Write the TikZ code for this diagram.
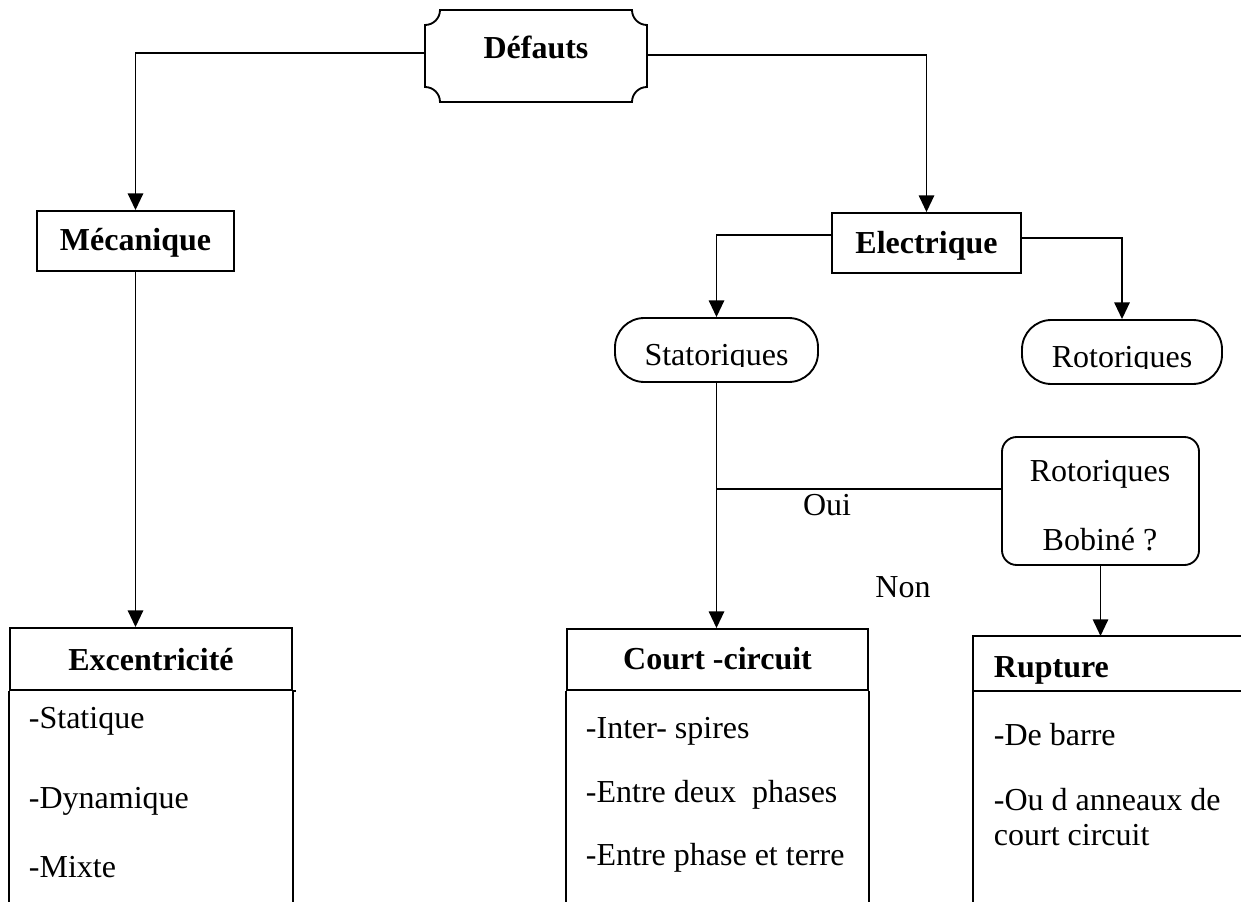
\documentclass[tikz,border=0pt]{standalone}
\usepackage{fontspec}
\setmainfont{Liberation Serif}
\usetikzlibrary{arrows.meta}
\begin{document}
\begin{tikzpicture}[x=0.75pt,y=-0.75pt,line width=1.4pt,
  every node/.style={inner sep=0pt},
  f/.style={font=\fontsize{24}{29}\selectfont},
  fb/.style={font=\fontsize{24}{29}\selectfont\bfseries},
  arr/.style={-{Triangle[length=12.5pt,width=11.5pt]}},
  boxn/.style={draw, rectangle, fb, text depth=0pt},
  pill/.style={draw, rectangle, rounded corners=22pt},
  item/.style={f, anchor=base west},
  itemb/.style={fb, anchor=base west},
  lbl/.style={f, anchor=base}]

\useasboundingbox (0,0) rectangle (1241,902);
\coordinate (bot) at (0,902);

% ---------- Défauts ----------
\node[fb, minimum width=166.5pt, minimum height=69pt, text height=4.5pt, text depth=0pt] (defauts) at (536,56) {Défauts};
\draw (440,10) -- (632,10) .. controls (632,18.3) and (638.7,25) .. (647,25)
  -- (647,87) .. controls (638.7,87) and (632,93.7) .. (632,102)
  -- (440,102) .. controls (440,93.7) and (433.3,87) .. (425,87)
  -- (425,25) .. controls (433.3,25) and (440,18.3) .. (440,10) -- cycle;

% ---------- second level ----------
\node[boxn, minimum width=147.75pt, minimum height=45pt, text height=15pt] (mecanique) at (135.5,241) {Mécanique};
\node[boxn, minimum width=141.75pt, minimum height=45pt, text height=15pt] (electrique) at (926.5,243) {Electrique};

% ---------- Statoriques / Rotoriques ----------
\node[pill, minimum width=152.25pt, minimum height=48pt] (statoriques) at (716.5,350) {};
\begin{scope}
  \clip (615,318) rectangle (818,366.5);
  \node[lbl] at (716.5,365) {Statoriques};
\end{scope}
\node[pill, minimum width=150pt, minimum height=48pt] (rotoriques) at (1122,352) {};
\begin{scope}
  \clip (1022,320) rectangle (1222,368.5);
  \node[lbl] at (1122,367) {Rotoriques};
\end{scope}

% ---------- Rotoriques Bobiné ? ----------
\node[draw, rectangle, rounded corners=11pt, minimum width=147.75pt, minimum height=96pt] (bobine) at (1100.5,501) {};
\node[lbl] (bob1) at (1100,481) {Rotoriques};
\node[lbl] (bob2) at (1100,550) {Bobiné ?};

\node[lbl] (oui) at (827,515) {Oui};
\node[lbl] (non) at (903,597) {Non};

% ---------- Excentricité ----------
\node[boxn, minimum width=211.5pt, minimum height=46.5pt, text height=16.5pt] (excentricite) at (151,659) {Excentricité};
\draw (excentricite.south west) -- (excentricite.south west |- bot);
\draw (excentricite.south east) -- (excentricite.south east |- bot);
\draw (excentricite.south east) -- ++(3,0);
\node[item] (e1) at (28,728) {-Statique};
\node[item] (e2) at (28,808) {-Dynamique};
\node[item] (e3) at (28,877) {-Mixte};

% ---------- Court-circuit ----------
\node[boxn, minimum width=225.75pt, minimum height=45.75pt, text height=14.25pt] (court) at (717.5,659.5) {Court -circuit};
\draw (court.south west) -- (court.south west |- bot);
\draw (court.south east) -- (court.south east |- bot);
\node[item] (c1) at (585,738) {-Inter- spires};
\node[item] (c2) at (585,802) {-Entre deux~~phases};
\node[item] (c3) at (585,865) {-Entre phase et terre};

% ---------- Rupture ----------
\coordinate (ruptop) at (973,636);
\draw (973,902) -- (ruptop) -- (1241,636);
\draw (973,691) -- (1241,691);
\node[itemb] (rupture) at (993,677) {Rupture};
\node[item] (r1) at (993,745) {-De barre};
\node[item] (r2) at (993,810) {-Ou d anneaux de};
\node[item] (r3) at (993,845) {court circuit};

% ---------- connectors ----------
\draw[arr] ([yshift=2.25pt]defauts.west) -| (mecanique.north);
\draw[arr] ([yshift=0.75pt]defauts.east) -| (electrique.north);
\draw[arr] ([yshift=6pt]electrique.west) -| (statoriques.north);
\draw[arr] ([yshift=3.75pt]electrique.east) -| (rotoriques.north);
\draw[arr] (mecanique.south) -- (mecanique.south |- excentricite.north);
\draw[arr] (statoriques.south) -- (statoriques.south |- court.north);
\draw ([yshift=9pt]bobine.west) coordinate (oj) -- (oj -| statoriques.south);
\draw[arr] (bobine.south) -- (bobine.south |- ruptop);

\end{tikzpicture}
\end{document}
